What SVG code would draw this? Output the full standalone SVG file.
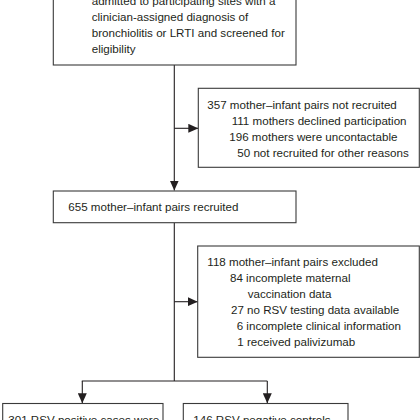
<svg xmlns="http://www.w3.org/2000/svg" width="420" height="420" viewBox="0 0 420 420">
<style>
.box{fill:#fff;stroke:#3a3a3a;stroke-width:1.1}
.t{font-family:"Liberation Sans",Arial,sans-serif;font-size:11.6px;fill:#231f20}
.c{fill:none;stroke:#231f20;stroke-width:1.1}
</style>
<defs>
<marker id="ah" markerUnits="userSpaceOnUse" markerWidth="10" markerHeight="9" refX="10" refY="4.5" orient="auto">
<path d="M0,0 L10,4.5 L0,9 Z" fill="#231f20"/>
</marker>
</defs>
<rect width="420" height="420" fill="#fff"/>
<g id="connectors">
<line class="c" x1="174.3" y1="65" x2="174.3" y2="190.5" marker-end="url(#ah)"/>
<line class="c" x1="174.3" y1="128.3" x2="198.3" y2="128.3" marker-end="url(#ah)"/>
<line class="c" x1="174.3" y1="223" x2="174.3" y2="381"/>
<line class="c" x1="174.3" y1="301.7" x2="197.7" y2="301.7" marker-end="url(#ah)"/>
<line class="c" x1="81.8" y1="381" x2="267.3" y2="381"/>
<line class="c" x1="82.3" y1="381" x2="82.3" y2="403.3" marker-end="url(#ah)"/>
<line class="c" x1="267.3" y1="381" x2="267.3" y2="403.3" marker-end="url(#ah)"/>
</g>
<g id="screened">
<rect class="box" x="53.3" y="-60" width="242.7" height="125"/>
<text class="t" x="91.7" y="5">admitted to participating sites with a</text>
<text class="t" x="91.7" y="21">clinician-assigned diagnosis of</text>
<text class="t" x="91.7" y="37">bronchiolitis or LRTI and screened for</text>
<text class="t" x="91.7" y="53">eligibility</text>
</g>
<g id="not-recruited">
<rect class="box" x="198.3" y="88.3" width="221" height="79"/>
<text class="t" x="207.3" y="109">357 mother–infant pairs not recruited</text>
<text class="t" x="231.7" y="125">111 mothers declined participation</text>
<text class="t" x="229.3" y="141">196 mothers were uncontactable</text>
<text class="t" x="237.3" y="157">50 not recruited for other reasons</text>
</g>
<g id="recruited">
<rect class="box" x="53.3" y="191" width="242.7" height="31.7"/>
<text class="t" x="68.3" y="210.5">655 mother–infant pairs recruited</text>
</g>
<g id="excluded">
<rect class="box" x="197.7" y="246" width="221.6" height="111.3"/>
<text class="t" x="207.3" y="266">118 mother–infant pairs excluded</text>
<text class="t" x="230" y="282">84 incomplete maternal</text>
<text class="t" x="247.7" y="298">vaccination data</text>
<text class="t" x="231" y="314">27 no RSV testing data available</text>
<text class="t" x="236.7" y="330">6 incomplete clinical information</text>
<text class="t" x="237.3" y="346">1 received palivizumab</text>
</g>
<g id="cases">
<rect class="box" x="2.7" y="403.5" width="160.3" height="40"/>
<text class="t" x="8.3" y="424">301 RSV-positive cases were</text>
</g>
<g id="controls">
<rect class="box" x="183.3" y="403.5" width="164.7" height="40"/>
<text class="t" x="193.3" y="424">146 RSV-negative controls</text>
</g>
</svg>
